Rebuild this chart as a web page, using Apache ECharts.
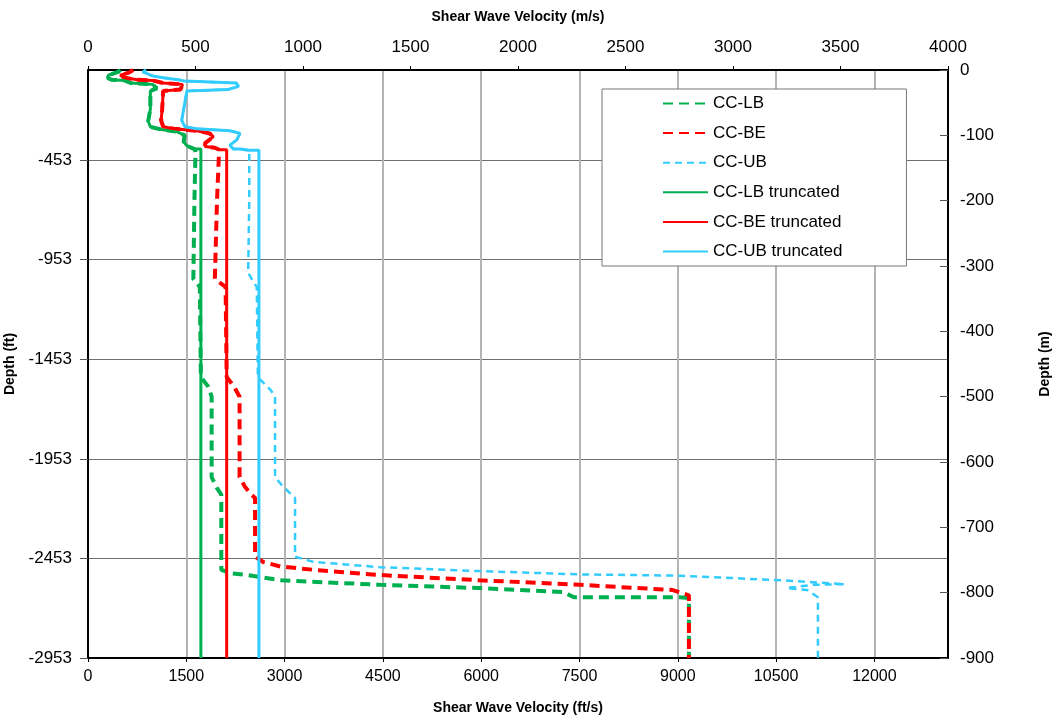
<!DOCTYPE html>
<html>
<head>
<meta charset="utf-8">
<script src="https://cdn.jsdelivr.net/npm/echarts@6/dist/echarts.min.js"></script>
<style>
  html, body { margin: 0; padding: 0; background: #fff; }
  #container { width: 1064px; height: 721px; }
</style>
</head>
<body>
<div id="container"></div>
<script>
// velocity (m/s), depth (m)
var lbTop = [[150,0],[140,3],[95,8],[90,12],[110,15],[170,16],[200,20],[300,22],[320,28],[290,32],[290,60],[280,78],[290,87],[340,91],[410,94],[450,100],[445,110],[460,116],[495,121]];
var lbDeep = [[500,125],[495,200],[490,320],[520,332],[525,470],[560,485],[575,500],[575,623],[600,640],[620,650],[620,765],[660,770],[740,773],[900,781],[1360,788],[1820,793],[2210,799],[2260,807],[2750,807],[2795,808],[2795,900]];
var lbTrunc = [[525,121],[525,900]];

var beTop = [[210,0],[190,4],[150,8],[170,12],[230,15],[300,16],[350,20],[440,22],[430,30],[350,32],[345,60],[340,77],[350,87],[400,90],[505,93],[565,97],[583,102],[545,112],[545,117],[590,119],[610,122]];
var beDeep = [[605,125],[600,200],[590,320],[640,332],[645,470],[680,485],[705,500],[705,623],[730,638],[760,650],[777,655],[777,745],[815,753],[895,760],[1050,765],[1360,773],[1820,781],[2290,788],[2720,796],[2795,804],[2795,900]];
var beTrunc = [[645,122],[645,900]];

var ubTop = [[270,0],[255,3],[300,9],[350,12],[420,15],[450,17],[690,20],[700,25],[650,30],[460,32],[445,60],[436,77],[451,87],[506,90],[660,93],[707,97],[692,107],[660,115],[676,121],[707,121],[750,123]];
var ubDeep = [[755,125],[750,200],[745,310],[770,325],[785,332],[790,470],[820,480],[850,490],[870,500],[870,623],[895,633],[940,648],[963,655],[963,745],[1050,753],[1360,761],[1820,767],[2290,772],[2750,774],[3220,781],[3370,784],[3520,787],[3370,788],[3250,793],[3345,796],[3395,807],[3395,900]];
var ubTrunc = [[795,123],[795,900]];

var names = ['CC-LB', 'CC-BE', 'CC-UB', 'CC-LB truncated', 'CC-BE truncated', 'CC-UB truncated'];
var FT = 3.28084;

function toDepth(arr) {
    return arr.map(function (p) { return [p[0], -p[1]]; });
}
function plain(v) { return String(Math.round(v)); }

var font = 'Liberation Sans';
var nameTxt = { color: '#000', fontSize: 14, fontWeight: 'bold', fontFamily: font };
var blackLine = { show: true, onZero: false, lineStyle: { color: '#000', width: 2 } };

var myChart = echarts.init(document.getElementById('container'));
var option = {
    backgroundColor: '#fff',
    animation: false,
    grid: { left: 88, right: 116, top: 70, bottom: 63, containLabel: false, outerBoundsMode: 'none' },
    legend: {
        data: names,
        orient: 'vertical',
        left: 602, top: 89,
        padding: [6, 64, 6, 60],
        itemWidth: 45, itemHeight: 14, itemGap: 12.6,
        itemStyle: { opacity: 0 },
        backgroundColor: '#fff',
        borderColor: '#777', borderWidth: 1,
        textStyle: { color: '#000', fontSize: 17, lineHeight: 17, fontFamily: font }
    },
    xAxis: [{
        type: 'value', position: 'top', min: 0, max: 4000, interval: 500,
        name: 'Shear Wave Velocity (m/s)', nameLocation: 'middle', nameGap: 46, nameTextStyle: nameTxt,
        axisLine: blackLine, axisTick: { show: true, length: 4, lineStyle: { color: '#000' } },
        axisLabel: { color: '#000', fontSize: 17, fontFamily: font, margin: 14, formatter: plain },
        splitLine: { show: false }
    }, {
        type: 'value', position: 'bottom', min: 0, max: 4000 * FT, interval: 1500,
        name: 'Shear Wave Velocity (ft/s)', nameLocation: 'middle', nameGap: 43, nameTextStyle: nameTxt,
        axisLine: blackLine, axisTick: { show: true, length: 4, lineStyle: { color: '#000' } },
        axisLabel: { color: '#000', fontSize: 16, fontFamily: font, margin: 11, showMaxLabel: false, formatter: plain },
        splitLine: { show: true, lineStyle: { color: '#b4b4b4', width: 2 } }
    }],
    yAxis: [{
        type: 'value', position: 'right', min: -900, max: 0, interval: 100,
        name: 'Depth (m)', nameLocation: 'middle', nameRotate: 90, nameGap: 90, nameTextStyle: nameTxt,
        axisLine: blackLine, axisTick: { show: true, inside: true, length: 8, lineStyle: { color: '#555' } },
        axisLabel: { color: '#000', fontSize: 17, fontFamily: font, margin: 12, formatter: plain },
        splitLine: { show: false }
    }, {
        type: 'value', position: 'left', min: -900 * FT, max: 0, interval: 500,
        name: 'Depth (ft)', nameLocation: 'middle', nameRotate: 90, nameGap: 60, nameTextStyle: nameTxt,
        axisLine: blackLine, axisTick: { show: true, length: 8, lineStyle: { color: '#555' } },
        axisLabel: { color: '#000', fontSize: 17, fontFamily: font, margin: 16, showMaxLabel: false, formatter: plain },
        splitLine: { show: true, lineStyle: { color: '#707070', width: 1 } }
    }],
    series: [
        { name: names[0], data: toDepth(lbTop.concat(lbDeep)), color: '#00B050', lineStyle: { width: 4, type: [10, 6] } },
        { name: names[1], data: toDepth(beTop.concat(beDeep)), color: '#FF0000', lineStyle: { width: 4, type: [10, 6] } },
        { name: names[2], data: toDepth(ubTop.concat(ubDeep)), color: '#33CCFF', lineStyle: { width: 2.5, type: [7, 5] } },
        { name: names[3], data: toDepth(lbTop.concat(lbTrunc)), color: '#00B050', lineStyle: { width: 3 } },
        { name: names[4], data: toDepth(beTop.concat(beTrunc)), color: '#FF0000', lineStyle: { width: 3 } },
        { name: names[5], data: toDepth(ubTop.concat(ubTrunc)), color: '#33CCFF', lineStyle: { width: 3 } }
    ].map(function (s) {
        s.type = 'line';
        s.xAxisIndex = 0;
        s.yAxisIndex = 0;
        s.showSymbol = false;
        s.symbol = 'none';
        return s;
    })
};
myChart.setOption(option);
</script>
</body>
</html>
